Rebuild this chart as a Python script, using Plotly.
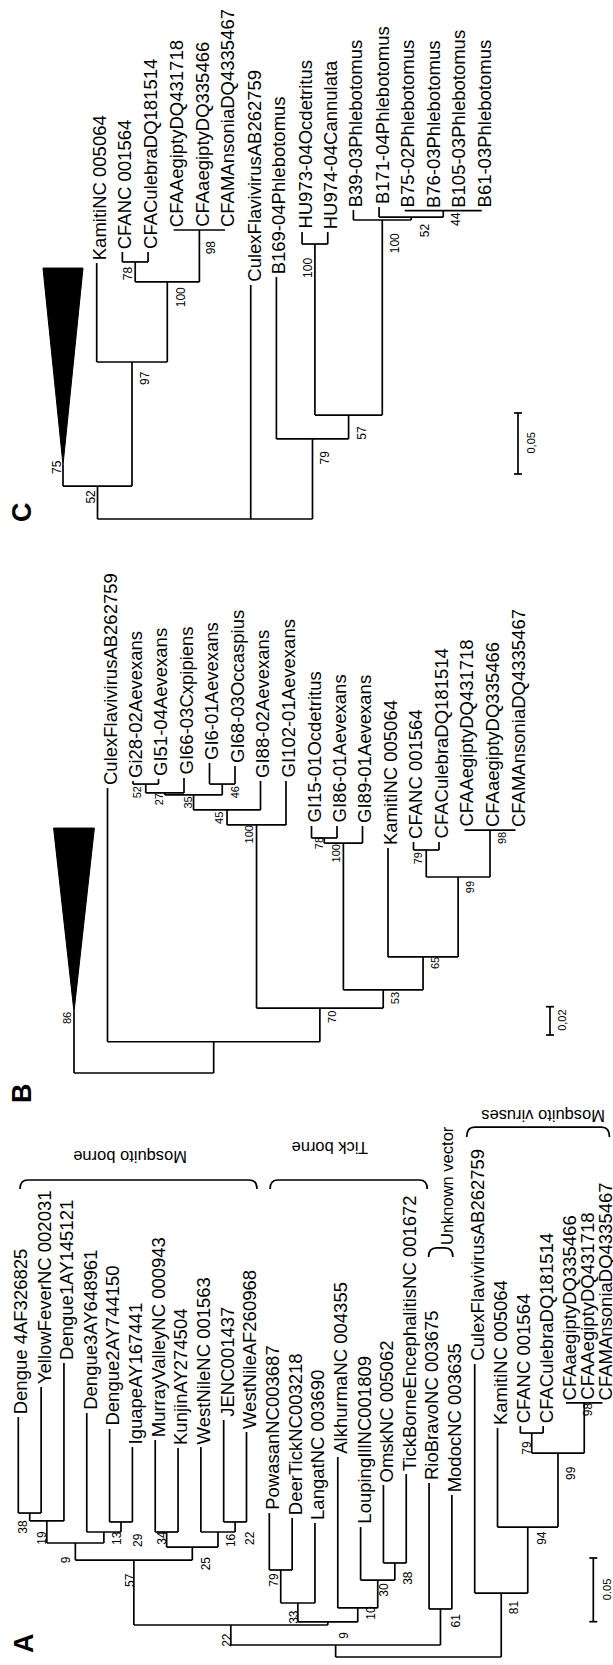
import plotly.graph_objects as go

W, H = 613, 1665
FONT = "Liberation Sans, Arial, Helvetica, sans-serif"

# ======================= DATA =======================
# ---------- Panel A (flaviviruses) ----------
A_leaves = ["Dengue 4AF326825", "YellowFeverNC 002031", "Dengue1AY145121", "Dengue3AY648961",
            "Dengue2AY744150", "IguapeAY167441", "MurrayValleyNC 000943", "KunjinAY274504",
            "WestNileNC 001563", "JENC001437", "WestNileAF260968", "PowasanNC003687",
            "DeerTickNC003218", "LangatNC 003690", "AlkhurmaNC 004355", "LoupingIllNC001809",
            "OmskNC 005062", "TickBorneEncephalitisNC 001672", "RioBravoNC 003675",
            "ModocNC 003635", "CulexFlavivirusAB262759", "KamitiNC 005064", "CFANC 001564",
            "CFACulebraDQ181514", "CFAaegiptyDQ335466", "CFAAegiptyDQ431718",
            "CFAMAnsoniaDQ4335467"]
A_tip_depth = [0.1884, 0.2119, 0.2308, 0.1915, 0.1790, 0.1648, 0.1703, 0.1641, 0.1648,
               0.1860, 0.1766, 0.1130, 0.1091, 0.1052, 0.1570, 0.1020, 0.1350, 0.1436,
               0.1366, 0.1272, 0.2300, 0.1797, 0.1813, 0.1813, 0.1994, 0.1994, 0.1994]
A_node_ids = ["a1", "a2", "a3", "a4", "a5", "a6", "a7", "a8", "a9", "a10", "a11", "a12",
              "a13", "a14", "a15", "a16", "a17", "a18", "a19", "a20", "a21", "a22", "a23",
              "a24", "a25"]
A_node_children = [[0, 1], ["a1", 2], [4, 5], [3, "a3"], ["a2", "a4"], [6, 7], [9, 10],
                   [8, "a7"], ["a6", "a8"], ["a5", "a9"], [11, 12], ["a11", 13], [16, 17],
                   [15, "a13"], [14, "a14"], ["a12", "a15"], ["a10", "a16"], [18, 19],
                   ["a17", "a18"], [22, 23], [24, 25, 26], ["a20", "a21"], [21, "a22"],
                   [20, "a23"], ["a19", "a24"]]
A_node_depth = [0.1130, 0.1068, 0.1060, 0.0981, 0.0895, 0.0981, 0.1060, 0.0981, 0.0863,
                0.0761, 0.0683, 0.0424, 0.0738, 0.0604, 0.0385, 0.0275, 0.0251, 0.0377,
                0.0094, 0.1758, 0.1994, 0.1601, 0.1020, 0.0502, 0.0]
A_node_support = ["38", "19", "13", "29", "9", "34", "16", "22", "25", "57", "79", "33",
                  "38", "30", "10", "", "22", "61", "9", "79", "98", "99", "94", "81", ""]
A_groups = ["Mosquito borne", "Tick borne", "Unknown vector", "Mosquito viruses"]
A_group_first = [0, 11, 18, 20]
A_group_last = [10, 17, 19, 26]
A_scale_value = 0.05
A_scale_text = "0.05"

# ---------- Panel B ----------
B_leaves = ["CulexFlavivirusAB262759", "Gi28-02Aevexans", "GI51-04Aevexans",
            "GI66-03Cxpipiens", "GI6-01Aevexans", "GI68-03Occaspius", "GI88-02Aevexans",
            "GI102-01Aevexans", "GI15-01Ocdetritus", "GI86-01Aevexans", "GI89-01Aevexans",
            "KamitiNC 005064", "CFANC 001564", "CFACulebraDQ181514", "CFAAegiptyDQ431718",
            "CFAaegiptyDQ335466", "CFAMAnsoniaDQ4335467"]
B_tip_depth = [0.2014, 0.2064, 0.2078, 0.2085, 0.2191, 0.2170, 0.2064, 0.2064, 0.1746,
               0.1746, 0.1746, 0.1590, 0.1633, 0.1633, 0.1717, 0.1717, 0.1717]
B_node_ids = ["b1", "b2", "b3", "b4", "b5", "b6", "b7", "b8", "b9", "b10", "b11", "b12",
              "b13", "b14", "b15", "b16"]
B_node_children = [[1, 2], ["b1", 3], [4, 5], ["b2", "b3"], ["b4", 6], ["b5", 7], [8, 9],
                   ["b7", 10], [12, 13], [14, 15, 16], ["b9", "b10"], [11, "b11"],
                   ["b8", "b12"], ["b6", "b13"], [0, "b14"], ["T", "b15"]]
B_node_depth = [0.2042, 0.1979, 0.2042, 0.1965, 0.1859, 0.1753, 0.1661, 0.1625, 0.1576,
                0.1717, 0.1385, 0.0820, 0.0587, 0.0459, 0.0221, 0.0]
B_node_support = ["52", "27", "46", "35", "45", "100", "78", "100", "79", "98", "99", "65",
                  "53", "70", "", ""]
B_collapsed_depth = [0.0431, 0.1731]   # apex, open end
B_collapsed_support = "86"
B_scale_value = 0.02
B_scale_text = "0,02"

# ---------- Panel C ----------
C_leaves = ["KamitiNC 005064", "CFANC 001564", "CFACulebraDQ181514", "CFAAegiptyDQ431718",
            "CFAaegiptyDQ335466", "CFAMAnsoniaDQ4335467", "CulexFlavivirusAB262759",
            "B169-04Phlebotomus", "HU973-04Ocdetritus", "HU974-04Cannulata",
            "B39-03Phlebotomus", "B171-04Phlebotomus", "B75-02Phlebotomus",
            "B76-03Phlebotomus", "B105-03Phlebotomus", "B61-03Phlebotomus"]
C_tip_depth = [0.2098, 0.2189, 0.2189, 0.2369, 0.2369, 0.2369, 0.1918, 0.1984, 0.2352,
               0.2352, 0.2533, 0.2557, 0.2527, 0.2527, 0.2527, 0.2527]
C_node_ids = ["c1", "c2", "c3", "c4", "c5", "c6", "c7", "c8", "c9", "c10", "c11", "c12"]
C_node_children = [[1, 2], [3, 4, 5], ["c1", "c2"], [0, "c3"], ["T", "c4"], [8, 9],
                   [12, 13, 14, 15], [11, "c7"], [10, "c8"], ["c6", "c9"], [7, "c10"],
                   ["c5", 6, "c11"]]
C_node_depth = [0.2107, 0.2369, 0.1943, 0.1287, 0.0270, 0.2254, 0.2527, 0.2475, 0.2451,
                0.0852, 0.0656, 0.0]
C_node_support = ["78", "98", "100", "97", "52", "100", "44", "52", "100", "57", "79", ""]
C_collapsed_depth = [0.0443, 0.2057]
C_collapsed_support = "75"
C_scale_value = 0.05
C_scale_text = "0,05"

# ======================= STYLE / LAYOUT =======================
GEOM = {
    "A": dict(ax="", x0=18.3, dx=22.82, yroot=1657, k=1274, bs=12, tipshift=3),
    "B": dict(ax="2", x0=107.5, dx=25.5, yroot=1073, k=1415, bs=11, tipshift=2.5),
    "C": dict(ax="3", x0=96.7, dx=25.67, yroot=519, k=1220, bs=12, tipshift=3),
}
# leaf slot positions (the last three taxa of panel A are set closer together)
SLOTS = {
    "A": [float(i) for i in range(24)] + [24.0, 24.8, 25.6],
    "B": [float(i) for i in range(17)],
    "C": [float(i) for i in range(16)],
}
# bootstrap label offsets in px (right, down) relative to node
A_off = [(-7, 14), (-5, 17), (-4, 16), (34, 8), (-9, 17), (-5, 6), (-4, 18), (32, 6),
         (14, 16), (-4, 20), (-7, 10), (-4, 14), (13, 15), (6, 10), (13, 5), (0, 0),
         (-4, 15), (15, 11), (8, -10), (-5, 15), (4, 6), (13, 20), (14, 11), (13, 14), (0, 0)]
B_off = [(-8.5, 8), (-5.6, 6), (13, 8), (-6, 8), (-8, 8), (-8, 10), (-5, 5), (-7, 10),
         (-8, 8), (12, 8), (12, 10), (12, 6), (12, 8), (12, 9), (0, 0), (0, 0)]
C_off = [(-7, 11), (12, 17), (14, 15), (13, 16), (-6, 11), (-7, 24), (12, 8), (14, 13),
         (13, 23), (13, 18), (12, 18), (0, 0)]
COLLAPSE = {"B": dict(pos=-1.314, hw=0.80, off=(-7, 6)),
            "C": dict(pos=-1.313, hw=0.78, off=(-6, 2))}
SCALEBAR = {"A": dict(px=593.3, py=1621.7, lab=14, fs=11),
            "B": dict(px=550, py=1035, lab=12, fs=11),
            "C": dict(px=518, py=474, lab=12, fs=11)}
LW = 1.7

fig = go.Figure()
annots = []
shapes = []


def paper(px, py):
    return px / W, 1 - py / H


panels = [
    ("A", A_tip_depth, A_leaves, A_node_ids, A_node_children, A_node_depth, A_node_support, A_off,
     None, None, A_scale_value, A_scale_text),
    ("B", B_tip_depth, B_leaves, B_node_ids, B_node_children, B_node_depth, B_node_support, B_off,
     B_collapsed_depth, B_collapsed_support, B_scale_value, B_scale_text),
    ("C", C_tip_depth, C_leaves, C_node_ids, C_node_children, C_node_depth, C_node_support, C_off,
     C_collapsed_depth, C_collapsed_support, C_scale_value, C_scale_text),
]

for (key, tips, names, ids, children, depths, support, offs, coll, coll_sup,
     sval, stext) in panels:
    g = GEOM[key]
    slot = SLOTS[key]
    xr, yr = "x" + g["ax"], "y" + g["ax"]
    pos = {i: (slot[i], d) for i, d in enumerate(tips)}
    if coll is not None:
        pos["T"] = (COLLAPSE[key]["pos"], coll[0])
    xs, ys = [], []
    for nid, ch, d in zip(ids, children, depths):
        cx = [pos[c][0] for c in ch]
        lo, hi = min(cx), max(cx)
        pos[nid] = ((lo + hi) / 2, d)
        xs += [lo, hi, None]
        ys += [d, d, None]
        for c in ch:
            xs += [pos[c][0], pos[c][0], None]
            ys += [pos[c][1], d, None]
    fig.add_trace(go.Scatter(x=xs, y=ys, mode="lines", xaxis=xr, yaxis=yr,
                             line=dict(color="black", width=LW), hoverinfo="skip"))
    # collapsed clade triangle
    if coll is not None:
        c = COLLAPSE[key]
        fig.add_trace(go.Scatter(
            x=[c["pos"] - c["hw"], c["pos"] + c["hw"], c["pos"], c["pos"] - c["hw"]],
            y=[coll[1], coll[1], coll[0], coll[1]], mode="lines", fill="toself",
            fillcolor="black", line=dict(color="black", width=1), xaxis=xr, yaxis=yr,
            hoverinfo="skip"))
        annots.append(dict(x=c["pos"], y=coll[0], xref=xr, yref=yr, text=coll_sup,
                           showarrow=False, textangle=-90, xanchor="center", yanchor="middle",
                           xshift=c["off"][0], yshift=-c["off"][1],
                           font=dict(size=g["bs"], family=FONT, color="black")))
    # leaf labels
    for i, nm in enumerate(names):
        annots.append(dict(x=slot[i], y=tips[i], xref=xr, yref=yr, text=nm, showarrow=False,
                           textangle=-90, xanchor="center", yanchor="bottom",
                           xshift=g["tipshift"], yshift=1,
                           font=dict(size=18.5, family=FONT, color="black")))
    # bootstrap labels
    for nid, s, o in zip(ids, support, offs):
        if s:
            annots.append(dict(x=pos[nid][0], y=pos[nid][1], xref=xr, yref=yr, text=s,
                               showarrow=False, textangle=-90, xanchor="center",
                               yanchor="middle", xshift=o[0], yshift=-o[1],
                               font=dict(size=g["bs"], family=FONT, color="black")))
    # scale bar
    sb = SCALEBAR[key]
    bx = (sb["px"] - g["x0"]) / g["dx"]
    by = (g["yroot"] - sb["py"]) / g["k"]
    cap = 4 / g["dx"]
    shapes.append(dict(type="line", xref=xr, yref=yr, x0=bx, x1=bx, y0=by, y1=by + sval,
                       line=dict(color="black", width=LW)))
    for yy in (by, by + sval):
        shapes.append(dict(type="line", xref=xr, yref=yr, x0=bx - cap, x1=bx + cap, y0=yy,
                           y1=yy, line=dict(color="black", width=LW)))
    annots.append(dict(x=bx, y=by + sval / 2, xref=xr, yref=yr, text=stext, showarrow=False,
                       textangle=-90, xanchor="center", yanchor="middle", xshift=sb["lab"],
                       font=dict(size=sb["fs"], family=FONT, color="black")))
    # axes
    fig.update_layout(**{
        "xaxis" + g["ax"]: dict(domain=[0, 1], range=[-g["x0"] / g["dx"], (W - g["x0"]) / g["dx"]],
                                visible=False, anchor=yr, fixedrange=True),
        "yaxis" + g["ax"]: dict(domain=[0, 1],
                                range=[(g["yroot"] - H) / g["k"], g["yroot"] / g["k"]],
                                visible=False, anchor=xr, fixedrange=True),
    })

# ---- clade brackets of panel A ----
gA = GEOM["A"]
sA = SLOTS["A"]
BRK = [dict(pl=1.7, pr=10.5, yl=1180, ye=1189, tx=130, ty=1157, ang=180),
       dict(pl=0.7, pr=21, yl=1180, ye=1189, tx=330, ty=1148, ang=180),
       dict(pl=-0.5, pr=1, yl=1248, ye=1257, tx=447, ty=1186, ang=-90),
       dict(pl=-8, pr=7, yl=1127, ye=1137, tx=543, ty=1116, ang=180)]
for name, f, l, st in zip(A_groups, A_group_first, A_group_last, BRK):
    x0 = gA["x0"] + gA["dx"] * sA[f] + st["pl"]
    x1 = gA["x0"] + gA["dx"] * sA[l] + st["pr"]
    r = min(8, (x1 - x0) / 3)
    p = lambda px, py: "%.4f,%.4f" % paper(px, py)
    path = ("M " + p(x0, st["ye"]) + " Q " + p(x0, st["yl"]) + " " + p(x0 + r, st["yl"]) +
            " L " + p(x1 - r, st["yl"]) + " Q " + p(x1, st["yl"]) + " " + p(x1, st["ye"]))
    shapes.append(dict(type="path", xref="paper", yref="paper", path=path,
                       line=dict(color="black", width=LW)))
    tx, ty = paper(st["tx"], st["ty"])
    annots.append(dict(x=tx, y=ty, xref="paper", yref="paper", text=name, showarrow=False,
                       textangle=st["ang"], xanchor="center", yanchor="middle",
                       font=dict(size=16.5, family=FONT, color="black")))

# ---- panel letters ----
for letter, (lx, ly) in zip(["A", "B", "C"], [(24, 1643), (22, 1093), (22, 512)]):
    px_, py_ = paper(lx, ly)
    annots.append(dict(x=px_, y=py_, xref="paper", yref="paper", text="<b>%s</b>" % letter,
                       showarrow=False, textangle=-90, xanchor="center", yanchor="middle",
                       font=dict(size=27, family=FONT, color="black")))

fig.update_layout(width=W, height=H, margin=dict(l=0, r=0, t=0, b=0),
                  paper_bgcolor="white", plot_bgcolor="rgba(0,0,0,0)", showlegend=False,
                  annotations=annots, shapes=shapes)
fig.write_html("out.html", config={"displayModeBar": False},
               post_script="document.body.style.margin='0';"
                           "document.body.style.overflow='hidden';")
